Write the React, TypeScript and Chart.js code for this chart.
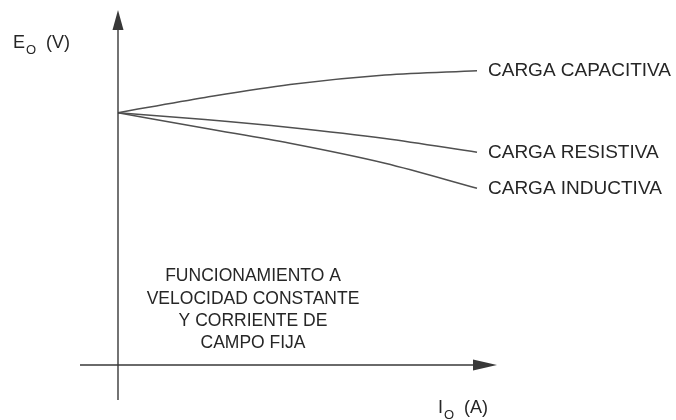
import React, { useEffect, useRef } from "react";
import { Chart, registerables } from "chart.js";

Chart.register(...registerables);

// Io (A) sample positions along the curves
const ioValues = [0, 0.87, 1.72, 2.67, 3.59];
// Eo (V) for each load type
const capacitiva = [2.523, 2.675, 2.805, 2.9, 2.943];
const resistiva = [2.523, 2.455, 2.375, 2.265, 2.127];
const inductiva = [2.523, 2.367, 2.217, 2.017, 1.767];

const seriesLabels = ["CARGA CAPACITIVA", "CARGA RESISTIVA", "CARGA INDUCTIVA"];
const noteLines = [
  "FUNCIONAMIENTO A",
  "VELOCIDAD CONSTANTE",
  "Y CORRIENTE DE",
  "CAMPO FIJA",
];
const yTitle = { main: "E", sub: "O", unit: "(V)" };
const xTitle = { main: "I", sub: "O", unit: "(A)" };

// axis extents in data units
const xAxisRange = [-0.38, 3.79];
const yAxisRange = [-0.35, 3.55];

const FONT = "Liberation Sans, Arial, Helvetica, sans-serif";
const TEXT = "#262626";
const LINE = "#505050";
const AXIS = "#383838";

const toPts = (ys: number[]) => ioValues.map((x, i) => ({ x, y: ys[i] }));

const overlay = {
  id: "schematicOverlay",
  afterDatasetsDraw(chart: any) {
    const ctx = chart.ctx;
    const xs = chart.scales.x;
    const ys = chart.scales.y;
    const x0 = xs.getPixelForValue(0);
    const y0 = ys.getPixelForValue(0);
    ctx.save();
    ctx.strokeStyle = AXIS;
    ctx.fillStyle = AXIS;
    ctx.lineWidth = 1.4;
    // Y axis
    const yTop = ys.getPixelForValue(yAxisRange[1]);
    const yBot = ys.getPixelForValue(yAxisRange[0]);
    ctx.beginPath();
    ctx.moveTo(x0, yBot);
    ctx.lineTo(x0, yTop + 18);
    ctx.stroke();
    ctx.beginPath();
    ctx.moveTo(x0, yTop);
    ctx.lineTo(x0 - 5.5, yTop + 20);
    ctx.lineTo(x0 + 5.5, yTop + 20);
    ctx.closePath();
    ctx.fill();
    // X axis
    const xL = xs.getPixelForValue(xAxisRange[0]);
    const xR = xs.getPixelForValue(xAxisRange[1]);
    ctx.beginPath();
    ctx.moveTo(xL, y0);
    ctx.lineTo(xR - 22, y0);
    ctx.stroke();
    ctx.beginPath();
    ctx.moveTo(xR, y0);
    ctx.lineTo(xR - 24, y0 - 5.5);
    ctx.lineTo(xR - 24, y0 + 5.5);
    ctx.closePath();
    ctx.fill();

    ctx.fillStyle = TEXT;
    ctx.textBaseline = "middle";
    ctx.textAlign = "left";
    ctx.font = `19px ${FONT}`;
    // curve end labels
    chart.data.datasets.forEach((ds: any, i: number) => {
      const meta = chart.getDatasetMeta(i);
      const last = meta.data[meta.data.length - 1];
      ctx.fillText(seriesLabels[i], last.x + 11, last.y + 0.5);
    });

    // axis titles
    const drawTitle = (t: any, x: number, y: number) => {
      ctx.font = `18px ${FONT}`;
      ctx.textBaseline = "alphabetic";
      ctx.fillText(t.main, x, y);
      let w = ctx.measureText(t.main).width;
      ctx.font = `13px ${FONT}`;
      ctx.fillText(t.sub, x + w + 1, y + 6);
      w += 1 + ctx.measureText(t.sub).width;
      ctx.font = `18px ${FONT}`;
      ctx.fillText(t.unit, x + w + 10, y);
    };
    drawTitle(yTitle, x0 - 105, yTop + 38);
    drawTitle(xTitle, xR - 59, y0 + 48);

    // note
    ctx.font = `17.5px ${FONT}`;
    ctx.textAlign = "center";
    ctx.textBaseline = "middle";
    const cx = xs.getPixelForValue(1.35);
    noteLines.forEach((l, i) => {
      ctx.fillText(l, cx, y0 - 88.5 + i * 22.2);
    });
    ctx.restore();
  },
};

export default function App() {
  const ref = useRef<HTMLCanvasElement>(null);
  useEffect(() => {
    if (!ref.current) return;
    const mk = (ys: number[], label: string) => ({
      label,
      data: toPts(ys),
      borderColor: LINE,
      borderWidth: 1.5,
      pointRadius: 0,
      fill: false,
      cubicInterpolationMode: "monotone" as const,
    });
    const chart = new Chart(ref.current, {
      type: "line",
      data: {
        datasets: [
          mk(capacitiva, seriesLabels[0]),
          mk(resistiva, seriesLabels[1]),
          mk(inductiva, seriesLabels[2]),
        ],
      },
      options: {
        animation: false,
        responsive: false,
        layout: { padding: 0 },
        plugins: { legend: { display: false }, tooltip: { enabled: false } },
        scales: {
          x: { type: "linear", min: -1.18, max: 5.58, display: false },
          y: { type: "linear", min: -0.55, max: 3.65, display: false },
        },
      },
      plugins: [overlay],
    });
    return () => chart.destroy();
  }, []);
  return (
    <div style={{ position: "fixed", left: 0, top: 0, width: 676, height: 420, background: "#fff" }}>
      <canvas ref={ref} width={676} height={420} />
    </div>
  );
}
